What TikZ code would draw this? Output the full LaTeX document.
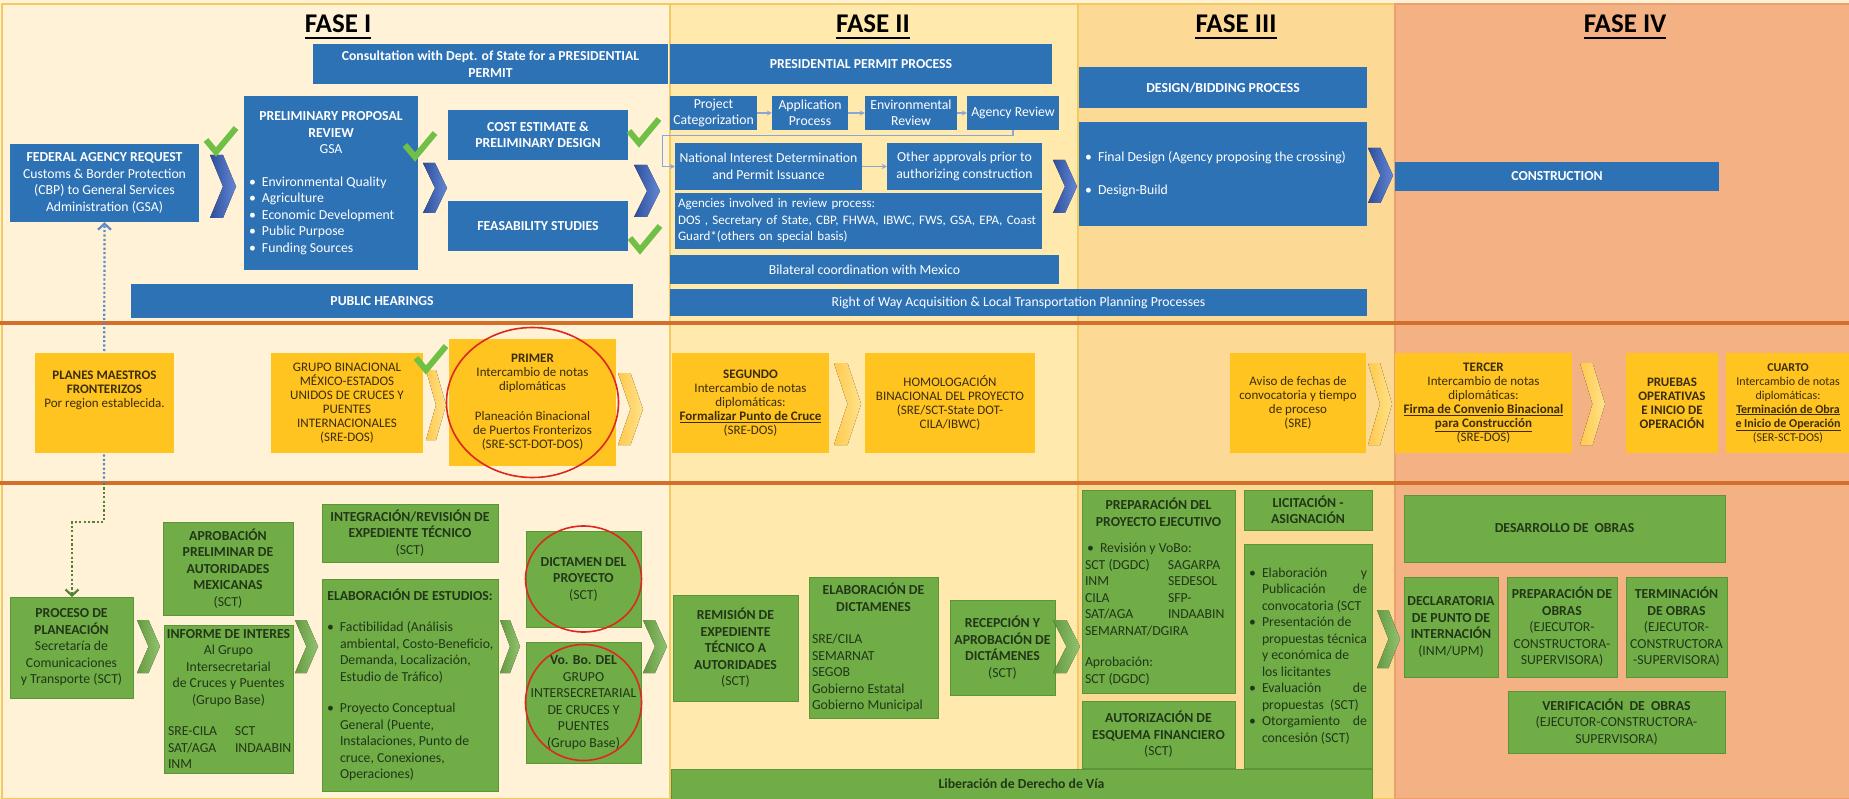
\documentclass[tikz,border=0pt]{standalone}
\usepackage{fontspec}
\setmainfont{Carlito}
\usetikzlibrary{arrows.meta,positioning,calc}
\definecolor{faseone}{RGB}{255,242,214}
\definecolor{fasetwo}{RGB}{255,233,172}
\definecolor{fasethree}{RGB}{253,217,150}
\definecolor{fasefour}{RGB}{244,178,132}
\definecolor{faseline}{RGB}{243,202,96}
\definecolor{fourline}{RGB}{236,160,110}
\definecolor{sepline}{RGB}{211,111,44}
\definecolor{boxblue}{RGB}{46,114,182}
\definecolor{chevblue}{RGB}{60,105,205}
\definecolor{linkblue}{RGB}{140,165,215}
\definecolor{boxgold}{RGB}{255,196,32}
\definecolor{chevgold}{RGB}{255,214,90}
\definecolor{textgold}{RGB}{60,45,10}
\definecolor{boxgreen}{RGB}{112,173,71}
\definecolor{edgegreen}{RGB}{92,148,56}
\definecolor{chevgreen}{RGB}{118,180,76}
\definecolor{textgreen}{RGB}{34,54,24}
\definecolor{checkgreen}{RGB}{112,192,72}
\definecolor{markred}{RGB}{220,40,30}
\definecolor{dotblue}{RGB}{95,140,200}
\definecolor{dotgreen}{RGB}{84,130,53}

% chevron: style, x0, x1, y0, y1
\newcommand{\chev}[5]{%
  \fill[#1] (#2,#4) -- ({(#2+#3)/2},#4) -- (#3,{(#4+#5)/2}) -- ({(#2+#3)/2},#5)
    -- (#2,#5) -- ({(#2+#3)/2},{(#4+#5)/2}) -- cycle;}
% check mark at centre
\newcommand{\chk}[2]{%
  \draw[checkgreen,line width=6pt] ({#1-15},{#2-1}) -- ({#1-5},{#2+11}) -- ({#1+15},{#2-13});}
\newcommand{\leftln}[2]{\makebox[#1][l]{#2}}
\newcommand{\bulpt}{\makebox[13pt][l]{\textbullet}}
\newcommand{\bulind}{\hspace*{13pt}}

\begin{document}
\begin{tikzpicture}[x=1pt,y=-1pt,font=\fontsize{13.75}{16.5}\selectfont,
  bt/.style={font=\fontsize{13.75}{16.5}\selectfont\bfseries},
  bluebox/.style={fill=boxblue,text=white,align=center,inner sep=2pt},
  goldbox/.style={fill=boxgold,text=textgold,align=center,inner sep=2pt,
    minimum height=100pt,font=\fontsize{13}{14}\selectfont},
  greenbox/.style={fill=boxgreen,draw=edgegreen,line width=0.8pt,text=textgreen,
    align=center,inner sep=2pt},
  link/.style={-{Stealth[length=5pt,width=5pt]},linkblue,line width=1.2pt},
  dots/.style={line width=2.2pt,dash pattern=on 2.2pt off 2.2pt},
  redring/.style={draw=markred,line width=1.6pt},
  chevbl/.style={left color=chevblue!75!black,right color=chevblue!80!white},
  chevgd/.style={left color=chevgold!85!orange,right color=chevgold!70!white},
  chevgr/.style={left color=chevgreen!85!black,right color=chevgreen!80!white},
  fasetitle/.style={inner sep=0pt,anchor=base,font=\fontsize{27}{30}\selectfont\bfseries}]
\useasboundingbox (0,0) rectangle (1849,799);
% phases
\fill[faseone] (0,0) rectangle (1849,799);
\filldraw[fill=faseone,draw=faseline,line width=1.5pt] (2,4) rectangle (670,799);
\filldraw[fill=fasetwo,draw=faseline,line width=1.5pt] (670,4) rectangle (1078,799);
\filldraw[fill=fasethree,draw=faseline,line width=1.5pt] (1078,4) rectangle (1395,799);
\filldraw[fill=fasefour,draw=fourline,line width=1.5pt] (1395,4) rectangle (1852,799);
\draw[sepline,line width=4pt] (0,323) -- (1849,323);
\draw[sepline,line width=4pt] (0,483) -- (1849,483);
\node[fasetitle] (f1) at (338,33) {FASE I};
\node[fasetitle] (f2) at (873,33) {FASE II};
\node[fasetitle] (f3) at (1236,33) {FASE III};
\node[fasetitle] (f4) at (1625,33) {FASE IV};
\foreach \t in {f1,f2,f3,f4}
  \draw[line width=2pt] ([yshift=-5pt]\t.base west) -- ([yshift=-5pt]\t.base east);

% US side (blue)
\node[bluebox,bt,minimum width=355pt,minimum height=40pt] (consult) at (490.5,64)
  {Consultation with Dept. of State for a PRESIDENTIAL\\PERMIT};
\node[bluebox,bt,minimum width=382pt,minimum height=40pt] (permit) at (861,64)
  {PRESIDENTIAL PERMIT PROCESS};
\node[bluebox,minimum width=189pt,minimum height=78pt] (fedreq) at (104.5,183)
  {\textbf{FEDERAL AGENCY REQUEST}\\Customs \& Border Protection\\(CBP) to General Services\\Administration (GSA)};
\node[bluebox,minimum width=174pt,minimum height=174pt] (prerev) at (331,183)
  {\textbf{PRELIMINARY PROPOSAL}\\\textbf{REVIEW}\\GSA\\[16pt]
   \leftln{164pt}{\bulpt Environmental Quality}\\
   \leftln{164pt}{\bulpt Agriculture}\\
   \leftln{164pt}{\bulpt Economic Development}\\
   \leftln{164pt}{\bulpt Public Purpose}\\
   \leftln{164pt}{\bulpt Funding Sources}};
\node[bluebox,bt,minimum width=180pt,minimum height=50pt] (cost) at (538,135)
  {COST ESTIMATE \&\\PRELIMINARY DESIGN};
\node[bluebox,bt,minimum width=180pt,minimum height=50pt] (feas) at (538,226)
  {FEASABILITY STUDIES};
\node[bluebox,bt,minimum width=502pt,minimum height=34pt] (hear) at (382,301)
  {PUBLIC HEARINGS};
\node[bluebox,minimum width=87pt,minimum height=34pt] (cat) at (713.5,113) {Project\\Categorization};
\node[bluebox,minimum width=76pt,minimum height=34pt] (appl) at (810,113) {Application\\Process};
\node[bluebox,minimum width=92pt,minimum height=34pt] (envr) at (911,113) {Environmental\\Review};
\node[bluebox,minimum width=92pt,minimum height=34pt] (agrev) at (1013,113) {Agency Review};
\node[bluebox,minimum width=187pt,minimum height=47pt] (natint) at (768.5,166.5)
  {National Interest Determination\\and Permit Issuance};
\node[bluebox,minimum width=155pt,minimum height=47pt] (other) at (964.5,166.5)
  {Other approvals prior to\\authorizing construction};
\node[bluebox,align=left,text width=361pt,minimum height=56pt,inner sep=3pt,
  font=\fontsize{13}{16.5}\selectfont] (agencies) at (858.5,221)
  {Agencies involved in review process:\\DOS , Secretary of State, CBP, FHWA, IBWC, FWS, GSA, EPA, Coast\\Guard*(others on special basis)};
\node[bluebox,minimum width=389pt,minimum height=29pt] (bilat) at (864.5,269.5)
  {Bilateral coordination with Mexico};
\node[bluebox,minimum width=697pt,minimum height=27pt] (rowacq) at (1018.5,302.5)
  {Right of Way Acquisition \& Local Transportation Planning Processes};
\node[bluebox,bt,minimum width=288pt,minimum height=41pt] (design) at (1223,87.5)
  {DESIGN/BIDDING PROCESS};
\node[bluebox,minimum width=288pt,minimum height=104pt] (final) at (1223,174)
  {\leftln{276pt}{\bulpt Final Design (Agency proposing the crossing)}\\[17pt]
   \leftln{276pt}{\bulpt Design-Build}};
\node[bluebox,bt,minimum width=324pt,minimum height=29pt] (constr) at (1557,176.5)
  {CONSTRUCTION};
\draw[link] (cat.east) -- (appl.west);
\draw[link] (appl.east) -- (envr.west);
\draw[link] (envr.east) -- (agrev.west);
\draw[link] (agrev.south) -- ++(0,5) -| ($(natint.west)+(-12,0)$) -- (natint.west);
\draw[link] (natint.east) -- (other.west);
\chev{chevbl}{210}{236}{155}{218}
\chev{chevbl}{423}{447}{163}{213}
\chev{chevbl}{634}{660}{165}{217}
\chev{chevbl}{1053}{1077}{160}{213}
\chev{chevbl}{1368}{1393}{148}{203}
\chk{221}{141}
\chk{420}{146}
\chk{644}{132}
\chk{645}{239}

% dotted links
\coordinate (split) at (104,483);
\draw[dotblue,dots,-{Straight Barb[length=6pt,width=13pt]}] (split) -- (fedreq.south);

% binational (gold)
\node[goldbox,minimum width=139pt] (planes) at (104.5,403)
  {\textbf{PLANES MAESTROS}\\\textbf{FRONTERIZOS}\\Por region establecida.\\[14pt]~};
\node[goldbox,minimum width=152pt] (grupo) at (347,403)
  {GRUPO BINACIONAL\\MÉXICO-ESTADOS\\UNIDOS DE CRUCES Y\\PUENTES\\INTERNACIONALES\\(SRE-DOS)};
\node[goldbox,minimum width=167pt,minimum height=127pt] (primer) at (532.5,402.5)
  {\textbf{PRIMER}\\Intercambio de notas\\diplomáticas\\[16pt]Planeación Binacional\\de Puertos Fronterizos\\(SRE-SCT-DOT-DOS)};
\node[goldbox,minimum width=157pt] (segundo) at (750.5,403)
  {\textbf{SEGUNDO}\\Intercambio de notas\\diplomáticas:\\\underline{\textbf{Formalizar Punto de Cruce}}\\(SRE-DOS)};
\node[goldbox,minimum width=170pt] (homol) at (950,403)
  {HOMOLOGACIÓN\\BINACIONAL DEL PROYECTO\\(SRE/SCT-State DOT-\\CILA/IBWC)};
\node[goldbox,minimum width=136pt] (aviso) at (1298,403)
  {Aviso de fechas de\\convocatoria y tiempo\\de proceso\\(SRE)};
\node[goldbox,minimum width=177pt] (tercer) at (1483.5,403)
  {\textbf{TERCER}\\Intercambio de notas\\diplomáticas:\\\underline{\textbf{Firma de Convenio Binacional}}\\\underline{\textbf{para Construcción}}\\(SRE-DOS)};
\node[goldbox,minimum width=92pt,font=\fontsize{13}{14}\selectfont\bfseries] (pruebas) at (1672,403)
  {PRUEBAS\\OPERATIVAS\\E INICIO DE\\OPERACIÓN};
\node[goldbox,minimum width=124pt,font=\fontsize{12}{14}\selectfont] (cuarto) at (1788,403)
  {\textbf{CUARTO}\\Intercambio de notas\\diplomáticas:\\\underline{\textbf{Terminación de Obra}}\\\underline{\textbf{e Inicio de Operación}}\\(SER-SCT-DOS)};
\chev{chevgd}{426}{446}{370}{440}
\chev{chevgd}{618}{643}{373}{445}
\chev{chevgd}{834}{861}{363}{445}
\chev{chevgd}{1368}{1392}{363}{445}
\chev{chevgd}{1580}{1605}{363}{445}
\chk{431}{359}
\draw[redring] (primer.center) ellipse [x radius=86pt,y radius=75pt];

% Mexican side (green)
\draw[dotgreen,dots,-{Straight Barb[length=6pt,width=13pt]}] (split) -- ++(0,39) -| (72,597);
\node[greenbox,minimum width=123pt,minimum height=101pt] (proceso) at (71.5,647.5)
  {\textbf{PROCESO DE}\\\textbf{PLANEACIÓN}\\Secretaría de\\Comunicaciones\\y Transporte (SCT)};
\node[greenbox,minimum width=130pt,minimum height=93pt] (aprob) at (228,568.5)
  {\textbf{APROBACIÓN}\\\textbf{PRELIMINAR DE}\\\textbf{AUTORIDADES}\\\textbf{MEXICANAS}\\(SCT)};
\node[greenbox,minimum width=129pt,minimum height=148pt] (informe) at (228.5,699)
  {\textbf{INFORME DE INTERES}\\Al Grupo\\Intersecretarial\\de Cruces y Puentes\\(Grupo Base)\\[15pt]
   \leftln{121pt}{\makebox[67pt][l]{SRE-CILA}SCT}\\
   \leftln{121pt}{\makebox[67pt][l]{SAT/AGA}INDAABIN}\\
   \leftln{121pt}{INM}};
\node[greenbox,minimum width=176pt,minimum height=58pt] (integ) at (410,533)
  {\textbf{INTEGRACIÓN/REVISIÓN DE}\\\textbf{EXPEDIENTE TÉCNICO}\\(SCT)};
\node[greenbox,minimum width=176pt,minimum height=212pt] (estudios) at (410,685)
  {\textbf{ELABORACIÓN DE ESTUDIOS:}\\[15pt]
   \leftln{166pt}{\bulpt Factibilidad (Análisis}\\
   \leftln{166pt}{\bulind ambiental, Costo-Beneficio,}\\
   \leftln{166pt}{\bulind Demanda, Localización,}\\
   \leftln{166pt}{\bulind Estudio de Tráfico)}\\[15pt]
   \leftln{166pt}{\bulpt Proyecto Conceptual}\\
   \leftln{166pt}{\bulind General (Puente,}\\
   \leftln{166pt}{\bulind Instalaciones, Punto de}\\
   \leftln{166pt}{\bulind cruce, Conexiones,}\\
   \leftln{166pt}{\bulind Operaciones)}};
\node[greenbox,minimum width=115pt,minimum height=96pt] (dictamen) at (583.5,579)
  {\textbf{DICTAMEN DEL}\\\textbf{PROYECTO}\\(SCT)};
\node[greenbox,minimum width=115pt,minimum height=121pt] (vobo) at (583.5,702.5)
  {\textbf{Vo. Bo. DEL}\\GRUPO\\INTERSECRETARIAL\\DE CRUCES Y\\PUENTES\\(Grupo Base)};
\node[greenbox,minimum width=125pt,minimum height=106pt] (remision) at (735.5,648)
  {\textbf{REMISIÓN DE}\\\textbf{EXPEDIENTE}\\\textbf{TÉCNICO A}\\\textbf{AUTORIDADES}\\(SCT)};
\node[greenbox,minimum width=129pt,minimum height=141pt] (elabdic) at (873.5,647.5)
  {\textbf{ELABORACIÓN DE}\\\textbf{DICTAMENES}\\[16pt]
   \leftln{123pt}{SRE/CILA}\\
   \leftln{123pt}{SEMARNAT}\\
   \leftln{123pt}{SEGOB}\\
   \leftln{123pt}{Gobierno Estatal}\\
   \leftln{123pt}{Gobierno Municipal}};
\node[greenbox,minimum width=105pt,minimum height=95pt] (recep) at (1002.5,647.5)
  {\textbf{RECEPCIÓN Y}\\\textbf{APROBACIÓN DE}\\\textbf{DICTÁMENES}\\(SCT)};
\node[greenbox,bt,text=textgreen,minimum width=701pt,minimum height=30pt] (libera) at (1021.5,784)
  {Liberación de Derecho de Vía};
\node[greenbox,minimum width=153pt,minimum height=203pt] (ejecutivo) at (1158.5,591.5)
  {\textbf{PREPARACIÓN DEL}\\\textbf{PROYECTO EJECUTIVO}\\[10pt]
   \leftln{147pt}{\hspace*{2pt}\bulpt Revisión y VoBo:}\\
   \leftln{147pt}{\makebox[83pt][l]{SCT (DGDC)}SAGARPA}\\
   \leftln{147pt}{\makebox[83pt][l]{INM}SEDESOL}\\
   \leftln{147pt}{\makebox[83pt][l]{CILA}SFP-}\\
   \leftln{147pt}{\makebox[83pt][l]{SAT/AGA}INDAABIN}\\
   \leftln{147pt}{SEMARNAT/DGIRA}\\[15pt]
   \leftln{147pt}{Aprobación:}\\
   \leftln{147pt}{SCT (DGDC)}};
\node[greenbox,minimum width=153pt,minimum height=67pt] (esquema) at (1158.5,734.5)
  {\textbf{AUTORIZACIÓN DE}\\\textbf{ESQUEMA FINANCIERO}\\(SCT)};
\node[greenbox,bt,text=textgreen,minimum width=128pt,minimum height=40pt] (licit) at (1308,510)
  {LICITACIÓN -\\ASIGNACIÓN};
\node[greenbox,minimum width=128pt,minimum height=224pt] (licpasos) at (1308,656)
  {\leftln{118pt}{\bulpt\makebox[105pt][s]{Elaboración y}}\\
   \leftln{118pt}{\bulind\makebox[105pt][s]{Publicación de}}\\
   \leftln{118pt}{\bulind convocatoria (SCT}\\
   \leftln{118pt}{\bulpt Presentación de}\\
   \leftln{118pt}{\bulind propuestas técnica}\\
   \leftln{118pt}{\bulind y económica de}\\
   \leftln{118pt}{\bulind los licitantes}\\
   \leftln{118pt}{\bulpt\makebox[105pt][s]{Evaluación de}}\\
   \leftln{118pt}{\bulind propuestas\ \ (SCT)}\\
   \leftln{118pt}{\bulpt\makebox[105pt][s]{Otorgamiento de}}\\
   \leftln{118pt}{\bulind concesión (SCT)}};
\node[greenbox,bt,text=textgreen,minimum width=321pt,minimum height=67pt] (desarr) at (1564.5,528.5)
  {DESARROLLO DE\ \ OBRAS};
\node[greenbox,minimum width=94pt,minimum height=100pt] (declar) at (1451,627)
  {\textbf{DECLARATORIA}\\\textbf{DE PUNTO DE}\\\textbf{INTERNACIÓN}\\(INM/UPM)};
\node[greenbox,minimum width=110pt,minimum height=100pt] (prepobr) at (1562,627)
  {\textbf{PREPARACIÓN DE}\\\textbf{OBRAS}\\(EJECUTOR-\\CONSTRUCTORA-\\SUPERVISORA)};
\node[greenbox,minimum width=101pt,minimum height=100pt] (termobr) at (1676.5,627)
  {\textbf{TERMINACIÓN}\\\textbf{DE OBRAS}\\(EJECUTOR-\\CONSTRUCTORA\\-SUPERVISORA)};
\node[greenbox,minimum width=217pt,minimum height=62pt] (verif) at (1616.5,722)
  {\textbf{VERIFICACIÓN\ \ DE\ \ OBRAS}\\(EJECUTOR-CONSTRUCTORA-\\SUPERVISORA)};
\chev{chevgr}{137}{160}{620}{673}
\chev{chevgr}{295}{318}{620}{673}
\chev{chevgr}{500}{520}{620}{673}
\chev{chevgr}{643}{667}{620}{673}
\chev{chevgr}{1053}{1080}{620}{673}
\chev{chevgr}{1377}{1400}{610}{668}
\draw[redring] (dictamen.center) ellipse [x radius=58pt,y radius=53pt];
\draw[redring] (vobo.center) ellipse [x radius=58pt,y radius=58pt];
\end{tikzpicture}
\end{document}
